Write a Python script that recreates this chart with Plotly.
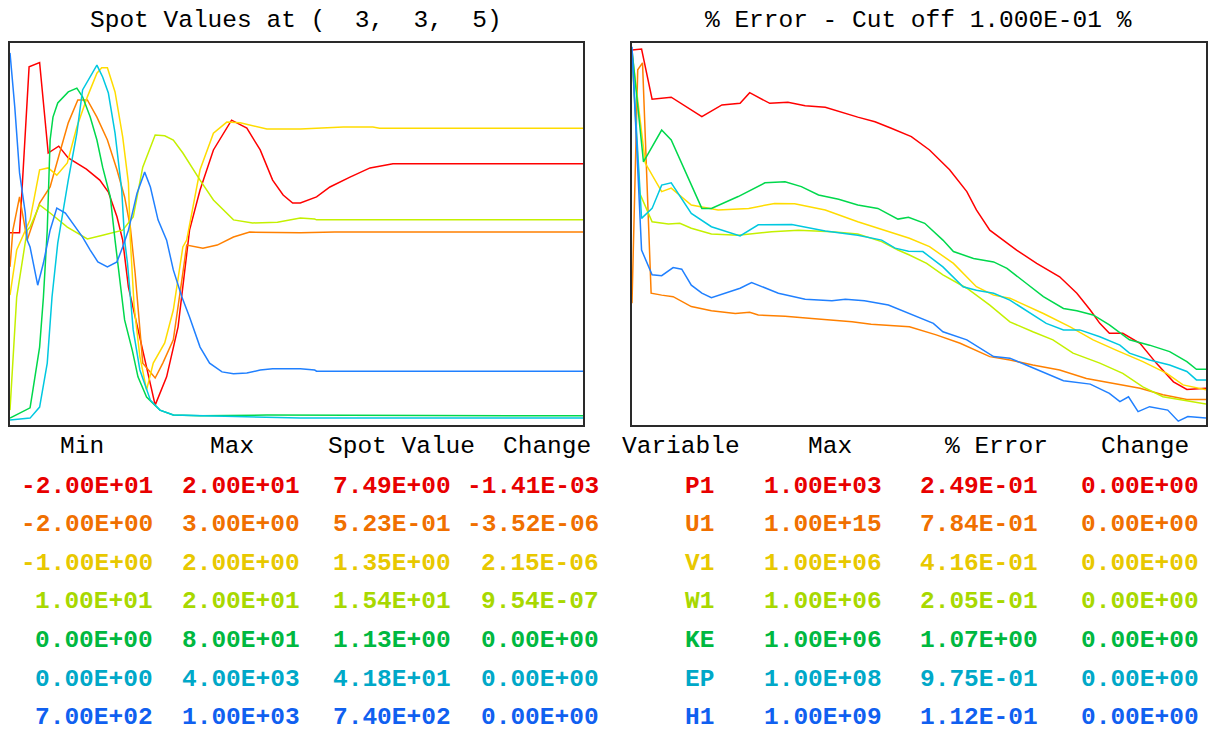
import plotly.graph_objects as go

W, H = 1211, 733

variables = ["P1", "U1", "V1", "W1", "KE", "EP", "H1"]
spot_min = ["-2.00E+01", "-2.00E+00", "-1.00E+00", "1.00E+01", "0.00E+00", "0.00E+00", "7.00E+02"]
spot_max = ["2.00E+01", "3.00E+00", "2.00E+00", "2.00E+01", "8.00E+01", "4.00E+03", "1.00E+03"]
spot_value = ["7.49E+00", "5.23E-01", "1.35E+00", "1.54E+01", "1.13E+00", "4.18E+01", "7.40E+02"]
spot_change = ["-1.41E-03", "-3.52E-06", "2.15E-06", "9.54E-07", "0.00E+00", "0.00E+00", "0.00E+00"]
err_max = ["1.00E+03", "1.00E+15", "1.00E+06", "1.00E+06", "1.00E+06", "1.00E+08", "1.00E+09"]
err_pct = ["2.49E-01", "7.84E-01", "4.16E-01", "2.05E-01", "1.07E+00", "9.75E-01", "1.12E-01"]
err_change = ["0.00E+00", "0.00E+00", "0.00E+00", "0.00E+00", "0.00E+00", "0.00E+00", "0.00E+00"]

line_colors = ["#ff0000", "#ff8000", "#ffdc00", "#c4f000", "#00d84c", "#00c8e0", "#2080ff"]
text_colors = ["#e80000", "#f07000", "#e8c800", "#a8d800", "#00b840", "#00a8c8", "#1060f0"]

# ---- Spot values (percent of Min..Max range) vs sweep ----
spot_it_p1 = [0, 1.0, 2.0, 3.1, 4.0, 5.1, 6.1, 8.0, 9.4, 10.3, 11.2, 11.8, 12.4, 15.2, 16.4, 17.6, 18.8, 19.9, 21.3, 23.2,
              24.8, 26.2, 27.5, 28.6, 29.6, 30.4, 32.1, 33.5, 35.6, 37.7, 40.1, 60]
spot_p1 = [50.3, 50.3, 93.8, 94.9, 71.2, 73.0, 69.9, 67.0, 64.1, 61.0, 54.5, 48.4, 36.1, 5.2, 12.6, 25.7, 51.0, 61.5, 72.0, 79.8,
           77.7, 72.0, 64.1, 60.2, 58.1, 58.1, 59.7, 62.3, 64.9, 67.3, 68.4, 68.4]

spot_it_u1 = [0, 0.3, 1.0, 1.8, 3.1, 4.2, 5.2, 6.1, 7.1, 8.1, 9.1, 10.2, 11.2, 12.0, 12.6, 13.1, 13.9, 15.2, 16.0, 17.1,
              18.1, 18.5, 20.2, 21.7, 23.4, 25.1, 30.4, 34.0, 60]
spot_u1 = [41.4, 51.0, 59.7, 48.4, 58.1, 62.3, 71.2, 79.1, 85.1, 85.1, 80.6, 74.6, 66.8, 59.7, 51.8, 39.8, 16.2, 12.3, 16.2, 22.3,
           39.8, 47.1, 46.3, 47.1, 49.2, 50.5, 50.3, 50.5, 50.5]

spot_it_v1 = [0, 0.7, 2.1, 3.1, 4.0, 4.9, 6.0, 7.0, 8.1, 9.1, 9.6, 10.2, 11.0, 11.8, 12.4, 12.6, 13.0, 13.6, 14.3, 15.0,
              16.2, 17.1, 18.1, 18.5, 19.9, 21.3, 22.7, 24.1, 26.9, 30.4, 34.9, 38.0, 38.7, 60]
spot_v1 = [34.0, 45.8, 53.7, 66.8, 67.3, 65.4, 68.6, 78.0, 85.9, 92.1, 93.5, 93.5, 87.2, 75.4, 63.4, 48.4, 31.0, 17.9, 9.2, 16.2,
           21.5, 30.1, 46.6, 48.4, 66.8, 76.4, 79.3, 79.1, 77.5, 77.5, 78.0, 78.0, 77.7, 77.7]

spot_it_w1 = [0, 0.7, 1.8, 2.1, 3.1, 4.2, 6.0, 8.1, 9.7, 10.8, 11.8, 12.9, 13.9, 15.2, 16.2, 17.1, 18.1, 19.9, 21.3, 23.4,
              25.4, 28.0, 30.4, 31.9, 32.1, 60]
spot_w1 = [3.9, 33.5, 51.0, 51.8, 57.6, 55.5, 51.8, 48.7, 49.7, 50.3, 51.0, 54.5, 67.5, 75.9, 75.7, 74.6, 71.2, 64.1, 58.9, 53.7,
           52.9, 53.1, 54.2, 53.9, 53.7, 53.7]

spot_it_ke = [0, 1.0, 2.1, 2.4, 3.1, 3.5, 3.9, 4.2, 4.5, 5.0, 6.1, 7.0, 7.6, 8.4, 9.1, 9.7, 10.5, 11.0, 11.3, 12.0,
              12.8, 13.4, 14.3, 15.7, 17.1, 19.9, 26.9, 60]
spot_ke = [1.8, 3.1, 4.5, 9.2, 20.4, 33.5, 51.0, 74.6, 80.6, 84.3, 87.2, 88.2, 85.9, 80.6, 74.6, 67.5, 59.7, 48.4, 42.4, 27.5,
           19.6, 12.6, 7.3, 3.9, 2.6, 2.4, 2.6, 2.4]

spot_it_ep = [0, 2.1, 3.1, 3.9, 4.4, 5.0, 6.1, 7.0, 7.6, 8.6, 9.1, 9.7, 10.3, 11.0, 11.7, 12.0, 12.3, 12.9, 13.6, 14.7,
              15.7, 17.1, 30.4, 60]
spot_ep = [1.3, 1.8, 4.7, 16.2, 33.5, 47.6, 64.1, 76.4, 87.7, 92.1, 94.2, 91.1, 86.9, 76.4, 61.5, 48.4, 42.4, 24.9, 14.4, 6.5,
           3.9, 2.6, 1.8, 1.8]

spot_it_h1 = [0, 0.5, 1.0, 1.6, 1.8, 2.1, 2.9, 3.5, 4.2, 4.9, 5.8, 6.5, 7.6, 8.4, 9.2, 10.2, 11.2, 11.8, 12.4, 13.3,
              14.1, 14.7, 15.5, 16.4, 17.1, 18.0, 18.8, 19.9, 20.9, 22.2, 23.4, 24.8, 26.2, 27.5, 30.4, 31.9, 32.1, 60]
spot_h1 = [97.4, 83.2, 66.0, 55.5, 48.4, 46.6, 36.6, 42.4, 51.0, 56.8, 55.5, 53.1, 49.2, 45.8, 42.7, 41.4, 42.7, 46.6, 51.0, 60.7,
           66.2, 62.3, 53.7, 48.4, 40.6, 33.5, 28.3, 20.4, 16.2, 13.9, 13.4, 13.6, 14.4, 14.7, 14.7, 14.4, 14.1, 14.1]

# ---- % error level (percent of plot height) vs sweep ----
err_it_p1 = [0, 1.0, 2.1, 4.1, 7.3, 9.4, 11.3, 12.3, 14.4, 16.3, 18.1, 20.2, 23.6, 25.4, 27.1, 29.2, 31.1, 33.2, 35.0, 36.0,
             37.4, 39.2, 40.2, 42.3, 44.7, 46.5, 47.9, 48.9, 49.9, 51.3, 53.1, 54.8, 56.6, 58.0, 60]
err_p1 = [98.2, 98.4, 85.3, 85.8, 80.7, 83.8, 84.2, 87.0, 84.2, 84.5, 83.6, 83.2, 80.6, 79.4, 77.7, 75.5, 72.0, 66.8, 61.1, 56.3,
          51.0, 47.6, 45.8, 42.3, 38.8, 34.5, 30.1, 26.6, 24.0, 24.0, 21.4, 16.2, 11.3, 9.3, 9.6]

err_it_u1 = [0, 0.6, 1.1, 2.0, 3.1, 4.3, 6.2, 8.3, 10.8, 12.3, 13.2, 16.0, 18.8, 20.9, 23.0, 25.0, 27.8, 29.0, 31.8, 34.3,
             37.4, 39.5, 41.9, 44.7, 47.5, 50.6, 53.1, 55.5, 58.0, 60]
err_u1 = [31.9, 93.0, 94.8, 34.5, 34.0, 33.6, 31.0, 29.9, 29.2, 29.5, 28.8, 28.5, 27.9, 27.5, 27.0, 26.4, 25.9, 25.7, 23.6, 21.4,
          17.9, 17.0, 15.7, 14.4, 12.2, 10.7, 9.6, 7.9, 6.7, 6.7]

err_it_v1 = [0, 1.4, 3.1, 4.1, 6.2, 9.0, 12.2, 14.9, 17.0, 20.2, 23.6, 27.1, 29.0, 31.1, 33.6, 36.0, 37.8, 39.5, 43.0, 45.8,
             48.2, 50.6, 53.4, 55.9, 57.6, 60]
err_v1 = [97.4, 68.5, 61.1, 62.0, 57.6, 56.3, 56.7, 58.0, 57.9, 56.3, 53.2, 50.3, 48.9, 46.7, 42.3, 36.2, 34.0, 33.2, 29.2, 25.7,
          22.3, 19.6, 16.6, 13.5, 10.5, 9.2]

err_it_w1 = [0, 0.8, 2.1, 3.8, 5.0, 6.2, 8.3, 11.1, 14.6, 17.4, 20.9, 23.6, 26.1, 27.8, 29.0, 30.8, 32.5, 35.0, 37.4, 39.5,
             41.9, 44.0, 46.1, 48.9, 51.3, 53.4, 55.5, 58.3, 60]
err_w1 = [96.9, 60.7, 53.2, 52.6, 52.8, 51.5, 50.0, 49.7, 50.6, 51.0, 50.6, 50.0, 48.0, 45.8, 44.5, 42.3, 39.3, 35.8, 31.4, 27.0,
          24.4, 22.3, 18.8, 16.2, 13.5, 10.0, 7.4, 6.1, 5.5]

err_it_ke = [0, 1.2, 3.1, 4.1, 7.3, 8.3, 11.1, 13.9, 16.0, 17.7, 19.5, 21.6, 23.6, 25.7, 27.8, 28.9, 30.6, 32.5, 33.6, 35.7,
             37.8, 39.2, 41.2, 43.0, 45.1, 46.5, 48.2, 49.9, 52.0, 54.1, 56.2, 58.0, 59.0, 60]
err_ke = [98.2, 68.9, 77.2, 74.6, 56.7, 56.7, 59.8, 63.4, 63.7, 62.4, 60.2, 59.1, 57.6, 56.7, 53.9, 54.4, 52.8, 48.4, 45.4, 43.6,
          42.7, 41.0, 37.1, 33.6, 30.5, 29.9, 28.8, 26.2, 22.3, 20.9, 19.2, 16.6, 14.6, 14.6]

err_it_ep = [0, 1.0, 2.1, 3.1, 4.1, 6.2, 8.3, 9.4, 11.3, 13.2, 16.7, 20.2, 23.6, 26.1, 27.5, 28.9, 30.4, 32.5, 34.6, 36.0,
             37.8, 39.5, 41.6, 43.3, 45.1, 46.8, 48.9, 51.0, 52.0, 54.1, 56.2, 58.0, 59.0, 60]
err_ep = [97.6, 54.1, 56.7, 62.8, 63.4, 55.4, 51.9, 51.0, 49.5, 52.4, 52.5, 50.8, 49.7, 48.4, 46.3, 45.5, 45.4, 41.4, 36.2, 35.3,
          34.5, 32.7, 29.2, 26.6, 24.9, 24.9, 23.1, 20.9, 18.8, 17.0, 15.7, 14.0, 11.8, 11.8]

err_it_h1 = [0, 1.0, 2.1, 3.1, 4.3, 5.2, 6.2, 7.3, 8.3, 10.1, 11.3, 12.5, 15.3, 18.1, 20.9, 22.3, 24.3, 26.8, 29.0, 30.6,
             31.5, 32.5, 35.0, 37.8, 39.5, 41.2, 43.3, 45.1, 47.9, 49.9, 51.0, 51.9, 52.9, 54.1, 56.0, 57.1, 58.1, 60]
err_h1 = [99.0, 45.8, 39.3, 39.1, 41.2, 40.8, 36.6, 34.5, 33.3, 34.9, 35.8, 37.3, 34.5, 32.9, 32.5, 32.9, 32.5, 31.4, 29.2, 27.7,
          26.6, 24.4, 22.3, 17.9, 17.5, 15.7, 13.5, 11.6, 10.7, 8.3, 6.1, 7.4, 3.5, 4.8, 3.9, 1.0, 2.2, 1.8]

spot_series = [(spot_it_p1, spot_p1), (spot_it_u1, spot_u1), (spot_it_v1, spot_v1), (spot_it_w1, spot_w1),
               (spot_it_ke, spot_ke), (spot_it_ep, spot_ep), (spot_it_h1, spot_h1)]
err_series = [(err_it_p1, err_p1), (err_it_u1, err_u1), (err_it_v1, err_v1), (err_it_w1, err_w1),
              (err_it_ke, err_ke), (err_it_ep, err_ep), (err_it_h1, err_h1)]

fig = go.Figure()
for i, (xs, ys) in enumerate(spot_series):
    fig.add_trace(go.Scatter(x=xs, y=ys, mode="lines", name=variables[i], xaxis="x", yaxis="y",
                             line=dict(color=line_colors[i], width=1.5), showlegend=False, hoverinfo="skip"))
for i, (xs, ys) in enumerate(err_series):
    fig.add_trace(go.Scatter(x=xs, y=ys, mode="lines", name=variables[i], xaxis="x2", yaxis="y2",
                             line=dict(color=line_colors[i], width=1.5), showlegend=False, hoverinfo="skip"))

def px(x):
    return x / W

def py(y):
    return 1 - y / H

ax_common = dict(showgrid=False, zeroline=False, showticklabels=False, ticks="", showline=True, mirror=True,
                 linecolor="#2a2a2a", linewidth=2, fixedrange=True)
fig.update_layout(
    width=W, height=H,
    margin=dict(l=0, r=0, t=0, b=0),
    paper_bgcolor="white", plot_bgcolor="white",
    xaxis=dict(domain=[px(10), px(583)], range=[0, 60], anchor="y", **ax_common),
    yaxis=dict(domain=[py(425), py(43)], range=[0, 100], anchor="x", **ax_common),
    xaxis2=dict(domain=[px(632), px(1206)], range=[0, 60], anchor="y2", **ax_common),
    yaxis2=dict(domain=[py(425), py(43)], range=[0, 100], anchor="x2", **ax_common),
)

FONT = "Liberation Mono, Courier New, monospace"
FS = 24.5
ann = []

def add_text(text, x, y, color="black", bold=False, anchor="center"):
    ann.append(dict(text=text.replace(" ", "\u00a0"), x=px(x), y=py(y), xref="paper", yref="paper",
                    xanchor=anchor, yanchor="middle", showarrow=False,
                    font=dict(family=FONT, size=FS, color=color, weight="bold" if bold else "normal")))

add_text("Spot Values at (  3,  3,  5)", 296, 21)
add_text("% Error - Cut off 1.000E-01 %", 918, 21)

headers_left = [("Min", 82), ("Max", 232), ("Spot Value", 401), ("Change", 547)]
headers_right = [("Variable", 681), ("Max", 830), ("% Error", 996), ("Change", 1145)]
for t, x in headers_left + headers_right:
    add_text(t, x, 446)

row_y0, row_dy = 486, 38.6
left_cols = [(spot_min, 155), (spot_max, 302), (spot_value, 453), (spot_change, 601)]
right_cols = [(variables, 716), (err_max, 884), (err_pct, 1040), (err_change, 1201)]
for r in range(7):
    y = row_y0 + r * row_dy
    for col, xr in left_cols + right_cols:
        add_text(col[r], xr, y, color=text_colors[r], bold=True, anchor="right")

fig.update_layout(annotations=ann)
fig.write_html("out.html", config={"displayModeBar": False},
               post_script="document.body.style.margin='0px';document.body.style.overflow='hidden';")
